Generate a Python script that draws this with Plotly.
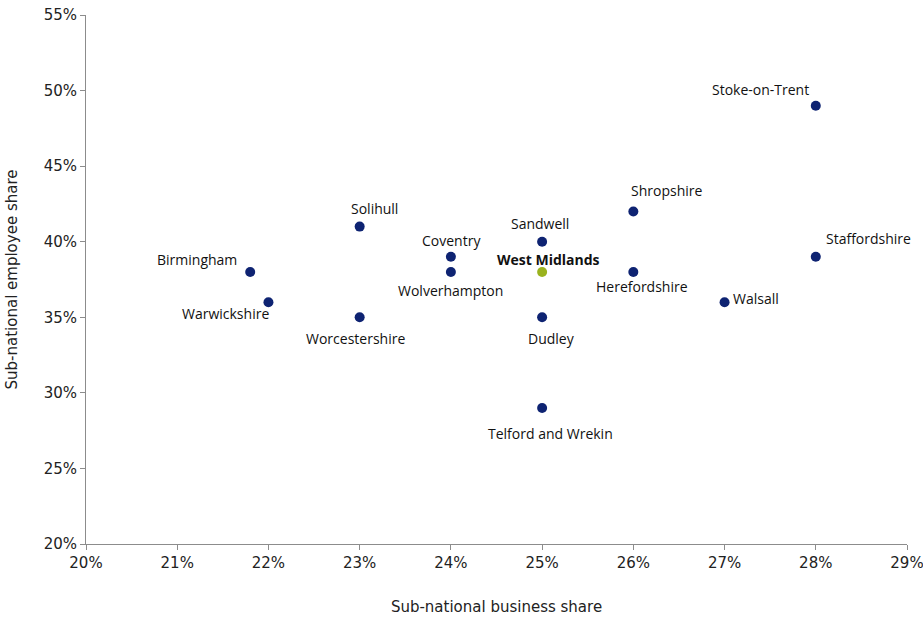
import plotly.graph_objects as go

areas = ["Birmingham", "Warwickshire", "Solihull", "Worcestershire", "Coventry",
         "Wolverhampton", "Sandwell", "West Midlands", "Dudley", "Telford and Wrekin",
         "Shropshire", "Herefordshire", "Walsall", "Stoke-on-Trent", "Staffordshire"]
business_share = [21.8, 22, 23, 23, 24, 24, 25, 25, 25, 25, 26, 26, 27, 28, 28]
employee_share = [38, 36, 41, 35, 39, 38, 40, 38, 35, 29, 42, 38, 36, 49, 39]

x_ticks = [20, 21, 22, 23, 24, 25, 26, 27, 28, 29]
y_ticks = [20, 25, 30, 35, 40, 45, 50, 55]

# label offsets in pixels (dx, dy) relative to the marker
label_offsets = {
    "Birmingham": (-53, 12), "Warwickshire": (-43, -11), "Solihull": (15, 18),
    "Worcestershire": (-4, -21), "Coventry": (1, 16), "Wolverhampton": (0, -19),
    "Sandwell": (-2, 18), "West Midlands": (6, 12), "Dudley": (9, -21),
    "Telford and Wrekin": (8, -26), "Shropshire": (33, 21), "Herefordshire": (9, -15),
    "Walsall": (31, 4), "Stoke-on-Trent": (-55, 16), "Staffordshire": (53, 18),
}

navy = "#0E2372"
green = "#9AB31E"
colors = [green if a == "West Midlands" else navy for a in areas]

fig = go.Figure()
fig.add_trace(go.Scatter(
    x=business_share, y=employee_share, mode="markers",
    marker=dict(size=10, color=colors),
    text=areas, hoverinfo="text", showlegend=False,
))

for a, xv, yv in zip(areas, business_share, employee_share):
    dx, dy = label_offsets[a]
    bold = a == "West Midlands"
    fig.add_annotation(
        x=xv, y=yv, xref="x", yref="y", showarrow=False,
        text=f"<b>{a}</b>" if bold else a,
        xshift=dx, yshift=dy,
        font=dict(family="Open Sans", size=14, color="#111111"),
    )

tick_font = dict(family="DejaVu Sans", size=15, color="#222222")
axis_common = dict(
    showgrid=False, zeroline=False, showline=True, linecolor="#8C8C8C", linewidth=1,
    ticks="outside", ticklen=5, tickcolor="#8C8C8C",
    tickfont=tick_font, automargin=False, ticklabeloverflow="allow",
)

fig.update_layout(
    width=923, height=619,
    margin=dict(l=86, r=16, t=15, b=75, autoexpand=False),
    plot_bgcolor="white", paper_bgcolor="white",
    xaxis=dict(range=[20, 29], tickvals=x_ticks, ticktext=[f"{v}%" for v in x_ticks],
               title=dict(text="Sub-national business share", standoff=30, font=tick_font),
               **axis_common),
    yaxis=dict(range=[20, 55], tickvals=y_ticks, ticktext=[f"{v}%" for v in y_ticks],
               title=dict(text="Sub-national employee share", standoff=22, font=tick_font),
               **axis_common),
)

# remove the default page margin so the figure sits at the window's top-left corner
fig.write_html("out.html", config={"displayModeBar": False},
               post_script="document.body.style.margin='0';")
